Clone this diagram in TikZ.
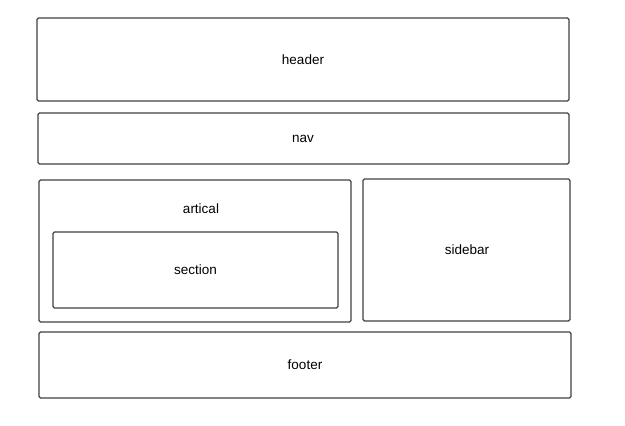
\documentclass[tikz,border=0pt]{standalone}
\usepackage{fontspec}
\setmainfont{Liberation Sans}
\begin{document}
\begin{tikzpicture}[x=1pt,y=-1pt,
  box/.style={draw=black!75,line width=1.3pt,rounded corners=1.5pt},
  lbl/.style={font=\fontsize{13.5}{16}\selectfont,inner sep=0pt}]
\useasboundingbox (0,0) rectangle (625,426);
\draw[box] (37,18) rectangle (569,101) coordinate (hdr);
\node[lbl] (header) at (303,59.5) {header};
\draw[box] (38,113) rectangle (569,164);
\node[lbl] (nav) at (303,138.5) {nav};
\draw[box] (39,180) rectangle (351,322);
\node[lbl] (artical) at (201,209) {artical};
\draw[box] (53,232) rectangle (338,308);
\node[lbl] (section) at (195.5,270) {section};
\draw[box] (363,179) rectangle (570,321);
\node[lbl] (sidebar) at (467,250) {sidebar};
\draw[box] (39,332) rectangle (571,398);
\node[lbl] (footer) at (305,365) {footer};
\end{tikzpicture}
\end{document}
